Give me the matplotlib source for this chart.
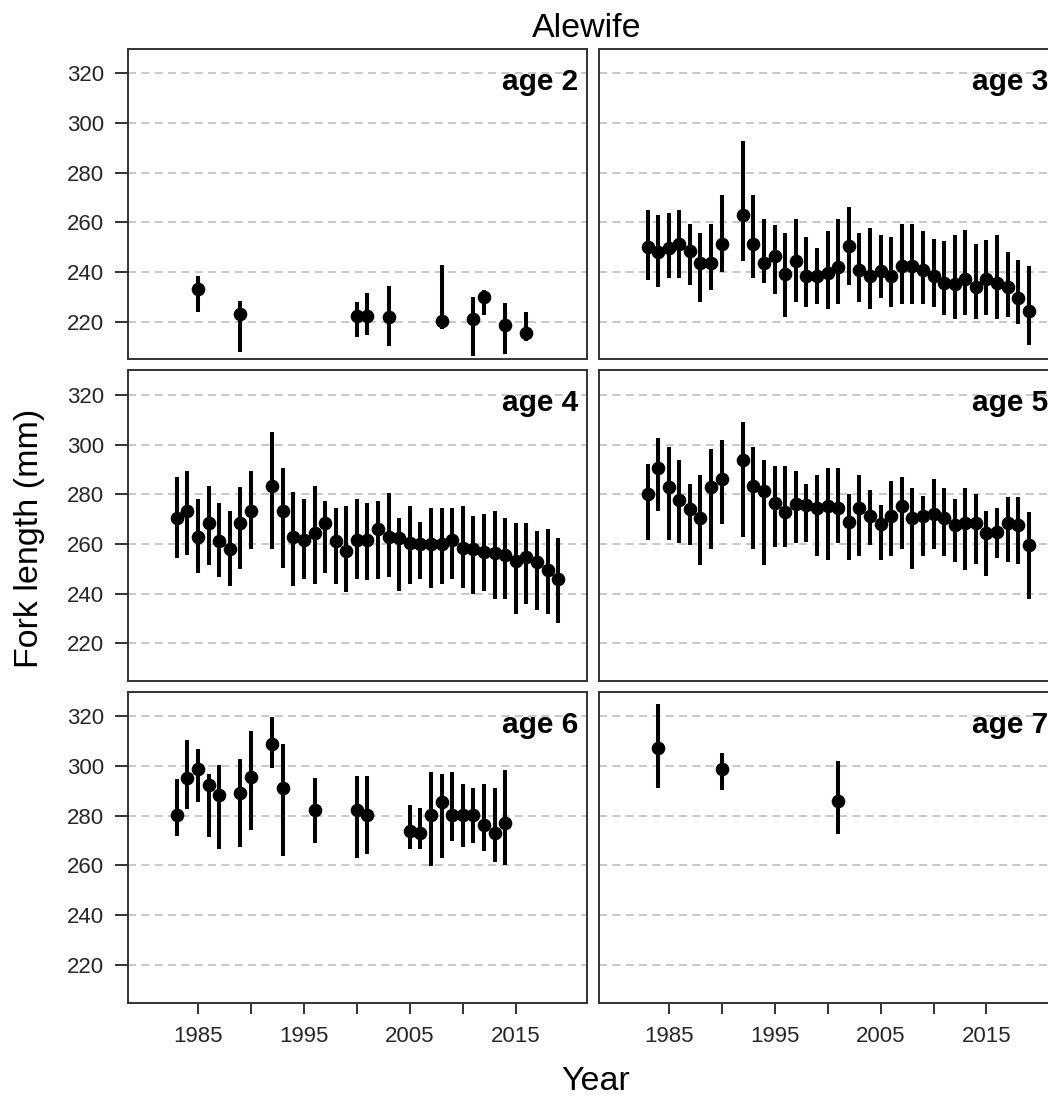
import numpy as np
import matplotlib
matplotlib.use("Agg")
import matplotlib.pyplot as plt

plt.rcParams['font.family'] = ['Liberation Sans', 'DejaVu Sans']
plt.rcParams['lines.scale_dashes'] = False

# ---------------- data ----------------
title = "Alewife"
xlabel = "Year"
ylabel = "Fork length (mm)"
panel_labels = ["age 2", "age 3", "age 4", "age 5", "age 6", "age 7"]

years2 = [1985, 1989, 2000, 2001, 2003, 2008, 2011, 2012, 2014, 2016]
mean2 = [233.1, 223.1, 222.4, 222.4, 221.8, 220.2, 221.1, 230.0, 218.7, 215.5]
lo2 = [223.8, 207.7, 213.7, 214.7, 210.1, 217.1, 206.4, 222.8, 207.0, 212.4]
hi2 = [238.4, 228.4, 227.8, 231.5, 234.4, 242.7, 229.8, 232.8, 227.5, 223.8]

years_full = [1983, 1984, 1985, 1986, 1987, 1988, 1989, 1990,
              1992, 1993, 1994, 1995, 1996, 1997, 1998, 1999, 2000, 2001,
              2002, 2003, 2004, 2005, 2006, 2007, 2008, 2009, 2010, 2011,
              2012, 2013, 2014, 2015, 2016, 2017, 2018, 2019]

mean3 = [250.1, 248.0, 249.5, 251.1, 248.4, 243.7, 243.7, 251.1, 263.1, 251.1,
         243.7, 246.4, 239.4, 244.4, 238.3, 238.3, 239.7, 242.1, 250.4, 241.0,
         238.6, 240.3, 238.6, 242.4, 242.4, 241.0, 238.3, 235.7, 235.0, 237.3,
         233.9, 237.3, 235.7, 233.9, 229.6, 224.3]
hi3 = [265.1, 263.1, 263.8, 265.1, 259.5, 255.7, 259.5, 271.1, 292.6, 271.1,
       261.5, 259.1, 255.7, 261.5, 254.0, 249.5, 256.4, 261.5, 266.1, 255.7,
       257.8, 254.8, 254.0, 259.5, 259.5, 256.4, 253.5, 252.7, 254.8, 257.1,
       251.1, 253.1, 254.8, 248.1, 245.0, 242.6]
lo3 = [237.0, 234.1, 237.7, 237.7, 234.6, 228.0, 232.7, 240.1, 244.6, 237.7,
       235.7, 231.0, 222.0, 228.0, 225.9, 227.2, 225.2, 227.2, 234.7, 228.0,
       225.2, 229.6, 225.9, 227.2, 227.2, 227.2, 226.0, 222.7, 221.3, 222.7,
       221.3, 222.7, 221.3, 221.9, 218.9, 210.6]

mean4 = [270.3, 273.3, 262.7, 268.4, 261.3, 258.0, 268.4, 273.3, 283.3, 273.3,
         262.7, 261.7, 264.4, 268.4, 261.3, 257.3, 261.7, 261.7, 266.0, 262.7,
         262.4, 260.4, 260.0, 260.0, 260.0, 261.7, 258.4, 258.0, 256.9, 256.4,
         255.6, 253.3, 254.7, 252.9, 249.3, 245.7]
hi4 = [286.9, 289.3, 278.0, 283.3, 276.4, 273.3, 283.1, 289.3, 305.1, 290.7,
       280.9, 278.0, 283.3, 277.1, 274.3, 275.1, 278.0, 276.4, 277.1, 280.3,
       270.4, 275.1, 268.9, 274.3, 274.3, 274.3, 275.1, 271.3, 272.0, 273.3,
       270.4, 268.3, 268.3, 265.3, 266.0, 262.3]
lo4 = [254.3, 255.7, 248.4, 251.3, 246.7, 243.1, 249.7, 258.0, 258.0, 250.4,
       243.1, 246.0, 243.7, 248.4, 243.7, 240.7, 246.0, 245.3, 246.0, 246.7,
       240.9, 243.7, 246.0, 242.4, 243.7, 246.0, 242.4, 240.0, 240.9, 238.0,
       238.0, 231.7, 235.6, 233.3, 231.7, 228.0]

mean5 = [280.0, 290.7, 283.1, 277.7, 274.0, 270.4, 283.1, 286.3, 293.7, 283.3,
         281.3, 276.4, 272.9, 276.0, 275.6, 274.3, 275.1, 274.3, 268.7, 274.3,
         271.3, 268.0, 271.3, 275.1, 270.3, 271.3, 272.0, 270.3, 267.6, 268.4,
         268.4, 264.4, 264.9, 268.4, 267.6, 259.6]
hi5 = [292.0, 302.7, 298.9, 293.7, 284.0, 287.6, 298.3, 302.0, 308.9, 298.9,
       293.7, 291.3, 291.3, 289.3, 284.0, 287.6, 290.7, 290.7, 280.0, 287.6,
       281.7, 275.6, 285.3, 286.9, 282.4, 279.3, 286.3, 282.4, 278.0, 282.4,
       280.0, 273.3, 274.3, 278.7, 278.7, 272.7]
lo5 = [261.7, 273.1, 261.7, 260.4, 259.6, 251.3, 258.0, 268.0, 262.7, 258.0,
       251.3, 258.9, 258.9, 260.4, 260.7, 255.1, 253.6, 260.4, 253.6, 255.1,
       259.6, 253.6, 255.1, 258.0, 249.7, 255.1, 258.0, 255.1, 252.9, 249.3,
       252.0, 247.1, 254.3, 252.9, 252.0, 238.0]

years6 = [1983, 1984, 1985, 1986, 1987, 1989, 1990, 1992, 1993, 1996, 2000,
          2001, 2005, 2006, 2007, 2008, 2009, 2010, 2011, 2012, 2013, 2014]
mean6 = [280.4, 295.0, 298.8, 292.3, 288.2, 289.1, 295.6, 308.8, 291.3, 282.1,
         282.4, 280.1, 273.7, 273.0, 280.1, 285.5, 280.1, 280.1, 280.1, 276.3,
         273.0, 277.0]
hi6 = [294.6, 310.5, 306.7, 296.6, 300.6, 302.8, 314.2, 319.6, 308.8, 295.2,
       295.9, 295.9, 284.5, 283.2, 297.7, 296.6, 297.7, 292.9, 291.3, 292.9,
       291.3, 298.3]
lo6 = [272.0, 282.8, 285.5, 271.3, 266.5, 267.5, 274.4, 299.4, 263.8, 269.0,
       262.9, 264.5, 266.5, 266.5, 259.8, 262.9, 269.7, 267.5, 269.0, 265.9,
       261.4, 260.0]

years7 = [1984, 1990, 2001]
mean7 = [307.1, 298.8, 285.9]
hi7 = [325.0, 305.1, 302.1]
lo7 = [291.2, 290.2, 272.6]

yticks = [220, 240, 260, 280, 300, 320]
xtick_pos = [1985, 1990, 1995, 2000, 2005, 2010, 2015]
xtick_labels = ["1985", "", "1995", "", "2005", "", "2015"]

panels = [
    (years2, mean2, lo2, hi2),
    (years_full, mean3, lo3, hi3),
    (years_full, mean4, lo4, hi4),
    (years_full, mean5, lo5, hi5),
    (years6, mean6, lo6, hi6),
    (years7, mean7, lo7, hi7),
]

# ---------------- layout ----------------
W, H = 1048, 1097
fig = plt.figure(figsize=(W / 100, H / 100), dpi=100)
lefts = [128.3, 599.0]
tops = [48.5, 370.0, 691.5]
pw, ph = 459.0, 311.0
dark = '#333333'

for i, (yrs, m, lo, hi) in enumerate(panels):
    r, c = divmod(i, 2)
    ax = fig.add_axes([lefts[c] / W, 1 - (tops[r] + ph) / H, pw / W, ph / H])
    yrs = np.asarray(yrs, float)
    m = np.asarray(m, float)
    lo = np.asarray(lo, float)
    hi = np.asarray(hi, float)
    ax.errorbar(yrs, m, yerr=[m - lo, hi - m], fmt='o', color='black',
                ms=8.8, elinewidth=2.9, capsize=0, zorder=3)
    ax.set_xlim(1978.42, 2021.75)
    ax.set_ylim(204.8, 330.0)
    ax.set_yticks(yticks)
    ax.set_xticks(xtick_pos)
    ax.set_axisbelow(True)
    ax.yaxis.grid(True, color='#c8c8c8', linewidth=1.4, linestyle=(0, (5.8, 3.8)))
    ax.xaxis.grid(False)
    for sp in ax.spines.values():
        sp.set_color(dark)
        sp.set_linewidth(1.4)
    ax.tick_params(axis='y', length=9.4, width=1.4, color=dark, pad=8,
                   labelsize=16, labelcolor='#262626')
    ax.tick_params(axis='x', length=7.9, width=1.4, color=dark, pad=9,
                   labelsize=16, labelcolor='#262626')
    if c == 0:
        ax.set_yticklabels([str(v) for v in yticks])
    else:
        ax.tick_params(axis='y', length=0, labelleft=False)
    if r == 2:
        ax.set_xticklabels(xtick_labels)
    else:
        ax.tick_params(axis='x', length=0, labelbottom=False)
    ax.text(0.9797, 0.8666, panel_labels[i], transform=ax.transAxes,
            ha='right', va='baseline', fontsize=21.5, fontweight='bold',
            color='black')

fig.text(586.5 / W, 1 - 36.7 / H, title, ha='center', va='baseline',
         fontsize=24.5, color='black')
fig.text(596 / W, 1 - 1090 / H, xlabel, ha='center', va='baseline',
         fontsize=24.5, color='black')
fig.text(38.3 / W, 1 - 538 / H, ylabel, ha='center', va='baseline',
         rotation=90, rotation_mode='anchor', fontsize=24.5, color='black')

fig.savefig("out.png", dpi=100)
